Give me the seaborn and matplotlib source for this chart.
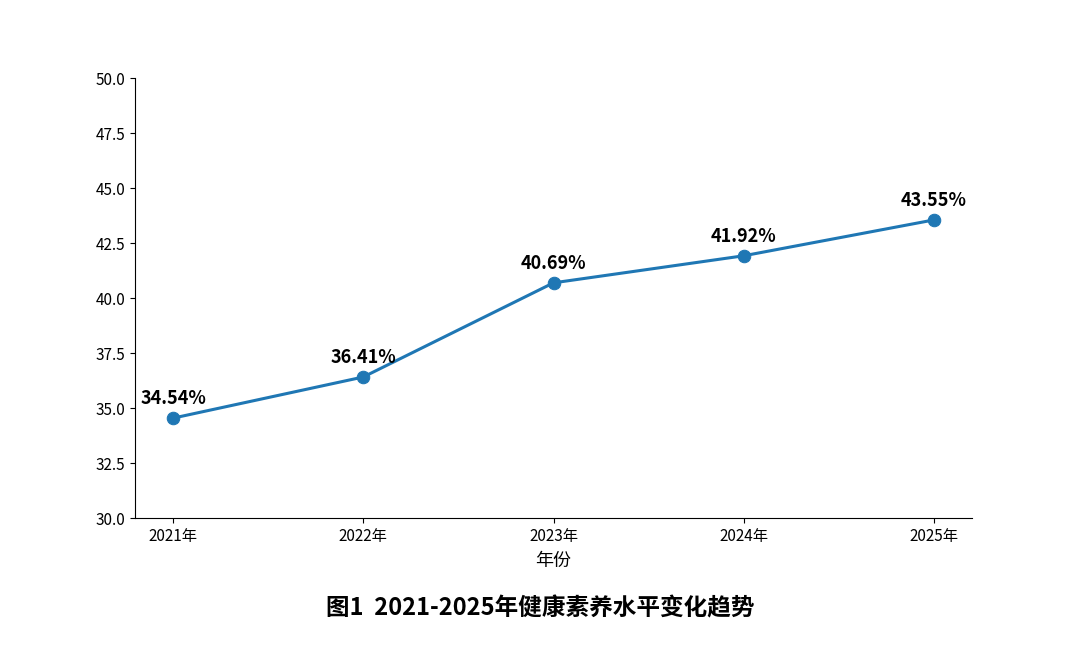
import pandas as pd
import numpy as np
import matplotlib.pyplot as plt
import seaborn as sns

# 数据
years = ['2021年', '2022年', '2023年', '2024年', '2025年']
rates = [34.54, 36.41, 40.69, 41.92, 43.55]

sns.set_style('ticks')
plt.rcParams['font.family'] = ['Noto Sans CJK SC', 'DejaVu Sans']
plt.rcParams['axes.unicode_minus'] = False
plt.rcParams['text.color'] = 'black'
plt.rcParams['axes.labelcolor'] = 'black'
plt.rcParams['xtick.color'] = 'black'
plt.rcParams['ytick.color'] = 'black'
plt.rcParams['axes.edgecolor'] = 'black'

df = pd.DataFrame({'年份': years, '健康素养水平': rates})

fig = plt.figure(figsize=(10.8, 6.48), dpi=100)
ax = fig.add_axes([0.125, 0.2006, 0.775, 0.6790])
sns.lineplot(data=df, x='年份', y='健康素养水平', marker='o', markersize=9,
             linewidth=2.2, color='#1f77b4', markeredgecolor='#1f77b4', ax=ax)

# 数值标注
for i, v in enumerate(rates):
    ax.annotate(f'{v:.2f}%', (i, v), textcoords='offset points', xytext=(0, 7),
                ha='center', va='bottom', fontsize=13, fontweight='bold')

ax.set_ylim(30, 50)
ax.set_yticks(np.arange(30, 50.1, 2.5))
ax.set_xlim(-0.2, 4.2)
ax.set_xlabel('年份', fontsize=13, labelpad=5)
ax.set_ylabel('')
ax.tick_params(labelsize=11)
sns.despine(ax=ax)

fig.text(0.5, 0.061, '图1  2021-2025年健康素养水平变化趋势', ha='center', va='center',
         fontsize=17, fontweight='bold')

plt.savefig('out.png', dpi=100)
plt.close()
